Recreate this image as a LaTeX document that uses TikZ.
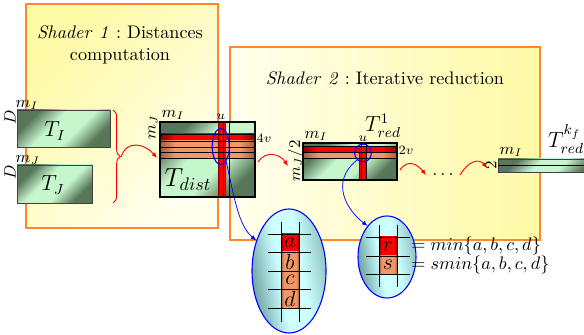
\documentclass[tikz,border=0pt]{standalone}
\usepackage{amsmath}
\usepackage{amssymb}
\usepackage{tikz}
\usetikzlibrary{arrows.meta}
\usetikzlibrary{decorations.pathreplacing,
                shapes.geometric}

\definecolor{shaderline}{RGB}{255,135,45}
\definecolor{shyellow}{RGB}{255,250,165}
\definecolor{shwhite}{RGB}{255,255,238}
\definecolor{matlight}{RGB}{198,246,204}
\definecolor{matdark}{RGB}{88,118,88}
\definecolor{reddark}{RGB}{135,0,0}
\definecolor{orangecell}{RGB}{242,152,104}
\definecolor{orangedark}{RGB}{165,92,60}
\definecolor{celllight}{RGB}{205,255,255}
\definecolor{celldark}{RGB}{105,158,158}

\pgfdeclareverticalshading{matshade}{100bp}{color(0bp)=(matdark); color(27bp)=(matdark);
  color(42bp)=(matlight); color(58bp)=(matlight); color(73bp)=(matdark); color(100bp)=(matdark)}
\pgfdeclareverticalshading{blobshade}{100bp}{color(0bp)=(celldark!55!celllight); color(28bp)=(celldark!55!celllight);
  color(42bp)=(celllight); color(56bp)=(celllight); color(75bp)=(celldark); color(100bp)=(celldark)}
\pgfdeclarehorizontalshading{redshade}{100bp}{color(0bp)=(reddark); color(25bp)=(reddark);
  color(33bp)=(red); color(67bp)=(red); color(75bp)=(reddark); color(100bp)=(reddark)}
\pgfdeclarehorizontalshading{orangeshade}{100bp}{color(0bp)=(orangedark); color(25bp)=(orangedark);
  color(33bp)=(orangecell); color(67bp)=(orangecell); color(75bp)=(orangedark); color(100bp)=(orangedark)}

\tikzset{
  shaderbox/.style={draw=shaderline, line width=0.6pt},
  matbox/.style={draw=black!75, line width=0.5pt, shading=matshade, shading angle=45},
  redband/.style={shade, shading=redshade},
  orangeband/.style={shade, shading=orangeshade},
  gridline/.style={draw=black, line width=0.5pt},
  zoomring/.style={draw=blue, line width=0.6pt, ellipse, inner sep=0pt},
  cellblob/.style={draw=blue, line width=0.6pt, ellipse, inner sep=0pt,
                   shading=blobshade, shading angle=100},
  redarrow/.style={draw=red, line width=0.5pt, -{Latex[length=3pt,width=2.5pt]}},
  bluearrow/.style={draw=blue, line width=0.4pt, -{Latex[length=3pt,width=2.5pt]}},
  dimtext/.style={font=\small, inner sep=0.75pt},
  tinytext/.style={font=\scriptsize, inner sep=0.75pt}
}

\begin{document}
\begin{tikzpicture}[x=0.55pt,y=0.55pt,yscale=-1,xscale=1]
\clip (0,0) rectangle (584,335);

%Shader 1 background
\path [shaderbox, top color=shyellow, bottom color=shwhite, shading angle=45] (26,4) rectangle (218,228);
\node [align=center] (title1) at (120,45) {$\mathit{Shader\ 1}:$ Distances\\computation};
%Shader 2 background
\path [shaderbox, left color=shwhite, right color=shyellow] (230,47) rectangle (540,240);
\node (title2) at (385,78) {$\mathit{Shader\ 2}:$ Iterative reduction};

%Matrix T_I
\path [matbox, shade, draw] (17,110) rectangle (110,147);
\node [font=\large] (TI) at (55,131) {$T_I$};
\node [dimtext, anchor=south west] (mI1) at (14,111) {$m_I$};
\node [dimtext, rotate=90] (D1) at (10,117) {$D$};
%Matrix T_J
\path [matbox, shade, draw] (17,165) rectangle (92,203);
\node [font=\large] (TJ) at (53,185) {$T_J$};
\node [dimtext, anchor=south west] (mJ1) at (14,166) {$m_J$};
\node [dimtext, rotate=90] (D2) at (10,172) {$D$};

%Brace
\draw [red, line width=0.5pt, decorate, decoration={brace, amplitude=4pt}] (113,110) -- (113,203);
\coordinate (braceTip) at (121,157);
\coordinate (distIn) at (157,158);
\draw [redarrow] (braceTip) .. controls +(6,-18) and +(-12,-14) .. (distIn);

%Matrix T_dist
\path [matbox, shade] (160,122) rectangle (255,197);
\path [redband] (160,134) rectangle (255,141);
\path [orangeband] (160,141) rectangle (255,158);
\path [redband] (218,122) rectangle (226,197);
\foreach \y in {134,141,147,152,158}
  \draw [gridline] (160,\y) -- (255,\y);
\foreach \x in {223.5,229.5}
  \draw [gridline] (\x,122) -- (\x,197);
\draw [draw=black, line width=0.6pt] (160,122) rectangle (255,197);
\node [font=\Large] (Tdist) at (188,180) {$T_{dist}$};
\node [dimtext, anchor=south west] (mI2) at (160,121) {$m_I$};
\node [dimtext, rotate=90] (mJ2) at (153,127) {$m_J$};
\node [tinytext] (u1) at (221,117) {$u$};
\node [tinytext, anchor=west] (v1) at (255,138) {$4v$};
\node [zoomring, minimum width=9.4pt, minimum height=19.8pt] (ringDist) at (220.7,146.5) {};

%Matrix T_red^1
\path [matbox, shade] (303,143) rectangle (397,180);
\path [redband] (303,146.5) rectangle (397,152.5);
\path [orangeband] (303,152.5) rectangle (397,158.5);
\path [redband] (359,146.5) rectangle (366,180);
\foreach \y in {146.5,152.5,158.5}
  \draw [gridline] (303,\y) -- (397,\y);
\foreach \x in {361.7,366}
  \draw [gridline] (\x,143) -- (\x,180);
\draw [draw=black, line width=0.6pt] (303,143) rectangle (397,180);
\node [font=\large] (Tred) at (383,126) {$T^1_{red}$};
\node [dimtext, anchor=south west] (mI3) at (303,142) {$m_I$};
\node [dimtext, rotate=90] (mJ3) at (296,161) {$m_J/2$};
\node [tinytext] (u2) at (363,139) {$u$};
\node [tinytext, anchor=west] (v2) at (397,150) {$2v$};
\node [zoomring, minimum width=9.2pt, minimum height=9.8pt] (ringRed) at (363,153) {};

%Reduction steps
\coordinate (distOut) at (258,162);
\coordinate (redIn) at (288,166);
\draw [redarrow] (distOut) .. controls +(8,-12) and +(-8,-12) .. (redIn);
\coordinate (redOut) at (400,170);
\node [anchor=base] (dots) at (443,176) {$\ldots$};
\draw [redarrow] (redOut) .. controls +(8,-12) and +(-8,-10) .. (dots.west);
\coordinate (lastIn) at (487,168);
\draw [redarrow] (dots.east) .. controls +(8,-14) and +(-8,-10) .. (lastIn);

%Matrix T_red^kf
\path [matbox, shade, draw] (498,159) rectangle (600,172);
\draw [gridline] (498,165.5) -- (600,165.5);
\node [dimtext, rotate=90] (two) at (491,165) {$2$};
\node [dimtext, anchor=south west] (mI4) at (498,158) {$m_I$};
\node [font=\large] (Tlast) at (566,139) {$T^{k_f}_{red}$};

%Zoom on four cells
\node [cellblob, shade, minimum width=40.7pt, minimum height=68.2pt] (cellsA) at (289,271) {};
\path [redband] (281,234) rectangle (299,252);
\path [orangeband] (281,252) rectangle (299,308);
\foreach \y in {234,252,271,289,308}
  \draw [gridline] (268,\y) -- (311,\y);
\foreach \x in {281,299}
  \draw [gridline] (\x,222) -- (\x,322);
\node [font=\large] (ca) at (290,243) {$a$};
\node [font=\large] (cb) at (290,261.5) {$b$};
\node [font=\large] (cc) at (290,280) {$c$};
\node [font=\large] (cd) at (290,298.5) {$d$};

%Zoom on two cells
\node [cellblob, shade, minimum width=31.9pt, minimum height=45.1pt] (cellsB) at (387,257) {};
\path [redband] (379,237) rectangle (397,256);
\path [orangeband] (379,256) rectangle (397,274);
\foreach \y in {237,256,274}
  \draw [gridline] (366,\y) -- (410,\y);
\foreach \x in {379,397}
  \draw [gridline] (\x,225) -- (\x,287);
\node [font=\large] (cr) at (388,246.5) {$r$};
\node [font=\large] (cs) at (388,265) {$s$};
\node [anchor=west, inner sep=0pt] (eqmin) at (411,246) {$= min\{a,b,c,d\}$};
\node [anchor=west, inner sep=0pt] (eqsmin) at (411,265) {$= smin\{a,b,c,d\}$};

%Zoom links
\draw [bluearrow] (ringDist.-70) .. controls +(8,35) and +(-18,-15) .. (cellsA.137);
\draw [bluearrow] (ringRed.-130) .. controls +(-28,22) and +(-20,-15) .. (cellsB.122);

\end{tikzpicture}
\end{document}
